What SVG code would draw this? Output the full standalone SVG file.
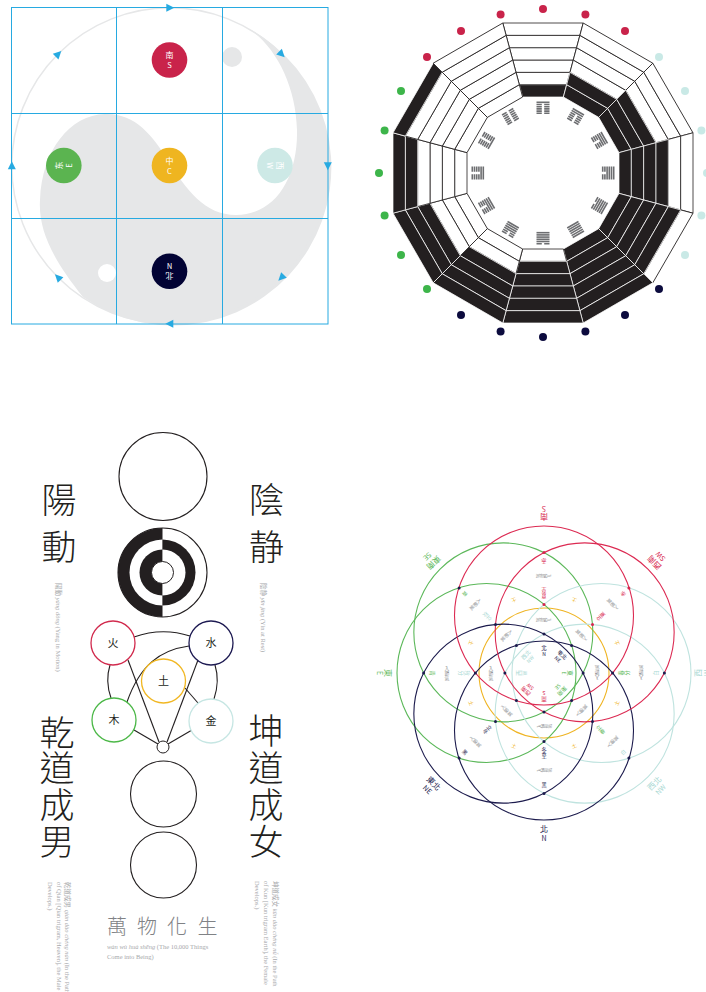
<svg xmlns="http://www.w3.org/2000/svg" width="706" height="992" viewBox="0 0 706 992">
<style>
.grid{fill:none;stroke:#27aae1;stroke-width:1}
.arr{fill:#27aae1}
.ct{font-family:'Noto Sans CJK SC',sans-serif;fill:#fff;text-anchor:middle}
.bk{fill:#231f20;stroke:#fff;stroke-width:.7}
.wh{fill:#fff;stroke:#231f20;stroke-width:.8}
.gl{fill:#6d6e71}
.ln{fill:none;stroke:#231f20;stroke-width:1.1}
.big{font-family:'Noto Sans CJK TC',sans-serif;font-size:35px;font-weight:300;fill:#231f20;text-anchor:middle}
.el{font-family:'Noto Sans CJK TC',sans-serif;font-size:11px;fill:#231f20;text-anchor:middle}
.cap{font-family:'Liberation Serif','Noto Sans CJK TC',serif;font-size:6.5px;fill:#a7a9ac}
.fl{fill:none;stroke-width:1.1}
.tn{font-family:'Noto Sans CJK TC',sans-serif;text-anchor:middle}
.ol{font-size:8px}
.ol2{font-size:7px}
.il{font-size:5.5px}
.il2{font-size:5px}
.sm{font-size:5.2px}
.gz{font-size:4.8px;fill:#939598}
.red{fill:#d7264e}.grn{fill:#5cb85a}.nav{fill:#1c1b4d}.tel{fill:#a9d8d3}.yel{fill:#efb423}
</style>
<defs>
<path id="arrow" d="M4.5,0 L-3.5,-4 L-3.5,4 Z"/>
<polygon id="b0" points="-20.36,-76 20.36,-76 23.67,-88.33 -23.67,-88.33"/>
<polygon id="b1" points="-23.67,-88.33 23.67,-88.33 26.97,-100.67 -26.97,-100.67"/>
<polygon id="b2" points="-26.97,-100.67 26.97,-100.67 30.28,-113 -30.28,-113"/>
<polygon id="b3" points="-30.28,-113 30.28,-113 33.58,-125.33 -33.58,-125.33"/>
<polygon id="b4" points="-33.58,-125.33 33.58,-125.33 36.89,-137.67 -36.89,-137.67"/>
<polygon id="b5" points="-36.89,-137.67 36.89,-137.67 40.19,-150 -40.19,-150"/>
<rect id="s" x="-6.5" y="0" width="13" height="1.6"/>
<path id="n" d="M-6.5,0h5.3v1.6h-5.3z M1.2,0h5.3v1.6h-5.3z"/>
<g id="gz"><text class="tn gz"><tspan x="0" y="-2.98">入</tspan><tspan x="0" y="1.82">節</tspan><tspan x="0" y="6.62">氣</tspan></text></g>
</defs>
<rect width="706" height="992" fill="#fff"/>

<!-- ===== Top-left: Luoshu grid with taiji ===== -->
<g id="luoshu">
<path id="yinyang" fill="#e6e7e8" d="M247,27.6 A158,158 0 1,1 83,297 C55,262 38,232 40,200 C42,150 70,115 105,114 C135,113 152,135 168,160 C186,190 205,215 236,215 C275,215 298,178 297,130 C296,85 275,45 247,27.6 Z"/>
<circle cx="169.8" cy="165.8" r="158" fill="none" stroke="#e6e7e8" stroke-width="1.5"/>
<circle cx="232" cy="57" r="10" fill="#e6e7e8"/>
<circle cx="107" cy="273" r="9" fill="#fff"/>
<g id="grid">
<rect class="grid" x="11.5" y="7.5" width="316.5" height="316.5"/>
<line class="grid" x1="116.5" y1="7.5" x2="116.5" y2="324"/>
<line class="grid" x1="222.5" y1="7.5" x2="222.5" y2="324"/>
<line class="grid" x1="11.5" y1="113.5" x2="328" y2="113.5"/>
<line class="grid" x1="11.5" y1="218.5" x2="328" y2="218.5"/>
</g>
<g id="orbit-arrows" class="arr">
<use href="#arrow" transform="translate(169.8,7.8) rotate(0)"/>
<use href="#arrow" transform="translate(281.5,54.1) rotate(45)"/>
<use href="#arrow" transform="translate(327.8,165.8) rotate(90)"/>
<use href="#arrow" transform="translate(281.5,277.5) rotate(135)"/>
<use href="#arrow" transform="translate(169.8,323.8) rotate(180)"/>
<use href="#arrow" transform="translate(58.1,277.5) rotate(225)"/>
<use href="#arrow" transform="translate(11.8,165.8) rotate(270)"/>
<use href="#arrow" transform="translate(58.1,54.1) rotate(315)"/>
</g>
<g id="node-south" transform="translate(169.5,60)"><circle r="17.8" fill="#c9234a"/><text class="ct" y="-2" font-size="8">南</text><text class="ct" y="8" font-size="7.5">S</text></g>
<g id="node-east" transform="translate(63.8,165.5) rotate(-90)"><circle r="17.8" fill="#5bb450"/><text class="ct" y="-2" font-size="8">东</text><text class="ct" y="8" font-size="7.5">E</text></g>
<g id="node-center" transform="translate(169.5,165.5)"><circle r="17.8" fill="#efb520"/><text class="ct" y="-2" font-size="8">中</text><text class="ct" y="8" font-size="7.5">C</text></g>
<g id="node-west" transform="translate(275,165.5) rotate(90)"><circle r="17.8" fill="#cde9e6"/><text class="ct" y="-2" font-size="8">西</text><text class="ct" y="8" font-size="7.5">W</text></g>
<g id="node-north" transform="translate(169.5,271.2) rotate(180)"><circle r="17.8" fill="#020334"/><text class="ct" y="-2" font-size="8">北</text><text class="ct" y="8" font-size="7.5">N</text></g>
</g>

<!-- ===== Top-right: twelve sovereign hexagrams wheel ===== -->
<g id="hexagram-wheel" transform="translate(543,173)">
<g id="seg0"><use href="#b0" class="bk"/><use href="#b1" class="wh"/><use href="#b2" class="wh"/><use href="#b3" class="wh"/><use href="#b4" class="wh"/><use href="#b5" class="wh"/>
<g class="gl"><use href="#s" y="-71.5"/><use href="#n" y="-69.3"/><use href="#n" y="-67.1"/><use href="#n" y="-64.9"/><use href="#n" y="-62.7"/><use href="#n" y="-60.5"/></g></g>
<g id="seg1" transform="rotate(30)"><use href="#b2" class="wh"/><use href="#b3" class="wh"/><use href="#b4" class="wh"/><use href="#b5" class="wh"/><use href="#b0" class="bk"/><use href="#b1" class="bk"/>
<g class="gl"><use href="#s" y="-71.5"/><use href="#s" y="-69.3"/><use href="#n" y="-67.1"/><use href="#n" y="-64.9"/><use href="#n" y="-62.7"/><use href="#n" y="-60.5"/></g></g>
<g id="seg2" transform="rotate(60)"><use href="#b3" class="wh"/><use href="#b4" class="wh"/><use href="#b5" class="wh"/><use href="#b0" class="bk"/><use href="#b1" class="bk"/><use href="#b2" class="bk"/>
<g class="gl"><use href="#s" y="-71.5"/><use href="#s" y="-69.3"/><use href="#s" y="-67.1"/><use href="#n" y="-64.9"/><use href="#n" y="-62.7"/><use href="#n" y="-60.5"/></g></g>
<g id="seg3" transform="rotate(90)"><use href="#b4" class="wh"/><use href="#b5" class="wh"/><use href="#b0" class="bk"/><use href="#b1" class="bk"/><use href="#b2" class="bk"/><use href="#b3" class="bk"/>
<g class="gl"><use href="#s" y="-71.5"/><use href="#s" y="-69.3"/><use href="#s" y="-67.1"/><use href="#s" y="-64.9"/><use href="#n" y="-62.7"/><use href="#n" y="-60.5"/></g></g>
<g id="seg4" transform="rotate(120)"><use href="#b5" class="wh"/><use href="#b0" class="bk"/><use href="#b1" class="bk"/><use href="#b2" class="bk"/><use href="#b3" class="bk"/><use href="#b4" class="bk"/>
<g class="gl"><use href="#s" y="-71.5"/><use href="#s" y="-69.3"/><use href="#s" y="-67.1"/><use href="#s" y="-64.9"/><use href="#s" y="-62.7"/><use href="#n" y="-60.5"/></g></g>
<g id="seg5" transform="rotate(150)"><use href="#b0" class="bk"/><use href="#b1" class="bk"/><use href="#b2" class="bk"/><use href="#b3" class="bk"/><use href="#b4" class="bk"/><use href="#b5" class="bk"/>
<g class="gl"><use href="#s" y="-71.5"/><use href="#s" y="-69.3"/><use href="#s" y="-67.1"/><use href="#s" y="-64.9"/><use href="#s" y="-62.7"/><use href="#s" y="-60.5"/></g></g>
<g id="seg6" transform="rotate(180)"><use href="#b0" class="wh"/><use href="#b1" class="bk"/><use href="#b2" class="bk"/><use href="#b3" class="bk"/><use href="#b4" class="bk"/><use href="#b5" class="bk"/>
<g class="gl"><use href="#n" y="-71.5"/><use href="#s" y="-69.3"/><use href="#s" y="-67.1"/><use href="#s" y="-64.9"/><use href="#s" y="-62.7"/><use href="#s" y="-60.5"/></g></g>
<g id="seg7" transform="rotate(210)"><use href="#b0" class="wh"/><use href="#b1" class="wh"/><use href="#b2" class="bk"/><use href="#b3" class="bk"/><use href="#b4" class="bk"/><use href="#b5" class="bk"/>
<g class="gl"><use href="#n" y="-71.5"/><use href="#n" y="-69.3"/><use href="#s" y="-67.1"/><use href="#s" y="-64.9"/><use href="#s" y="-62.7"/><use href="#s" y="-60.5"/></g></g>
<g id="seg8" transform="rotate(240)"><use href="#b0" class="wh"/><use href="#b1" class="wh"/><use href="#b2" class="wh"/><use href="#b3" class="bk"/><use href="#b4" class="bk"/><use href="#b5" class="bk"/>
<g class="gl"><use href="#n" y="-71.5"/><use href="#n" y="-69.3"/><use href="#n" y="-67.1"/><use href="#s" y="-64.9"/><use href="#s" y="-62.7"/><use href="#s" y="-60.5"/></g></g>
<g id="seg9" transform="rotate(270)"><use href="#b0" class="wh"/><use href="#b1" class="wh"/><use href="#b2" class="wh"/><use href="#b3" class="wh"/><use href="#b4" class="bk"/><use href="#b5" class="bk"/>
<g class="gl"><use href="#n" y="-71.5"/><use href="#n" y="-69.3"/><use href="#n" y="-67.1"/><use href="#n" y="-64.9"/><use href="#s" y="-62.7"/><use href="#s" y="-60.5"/></g></g>
<g id="seg10" transform="rotate(300)"><use href="#b0" class="wh"/><use href="#b1" class="wh"/><use href="#b2" class="wh"/><use href="#b3" class="wh"/><use href="#b4" class="wh"/><use href="#b5" class="bk"/>
<g class="gl"><use href="#n" y="-71.5"/><use href="#n" y="-69.3"/><use href="#n" y="-67.1"/><use href="#n" y="-64.9"/><use href="#n" y="-62.7"/><use href="#s" y="-60.5"/></g></g>
<g id="seg11" transform="rotate(330)"><use href="#b0" class="wh"/><use href="#b1" class="wh"/><use href="#b2" class="wh"/><use href="#b3" class="wh"/><use href="#b4" class="wh"/><use href="#b5" class="wh"/>
<g class="gl"><use href="#n" y="-71.5"/><use href="#n" y="-69.3"/><use href="#n" y="-67.1"/><use href="#n" y="-64.9"/><use href="#n" y="-62.7"/><use href="#n" y="-60.5"/></g></g>
</g>
<g id="wheel-dots">
<g fill="#c9234a"><circle cx="625" cy="31" r="4"/><circle cx="585.4" cy="14.6" r="4"/><circle cx="543" cy="9" r="4"/><circle cx="500.6" cy="14.6" r="4"/><circle cx="461" cy="31" r="4"/><circle cx="427" cy="57" r="4"/></g>
<g fill="#3db54a"><circle cx="401" cy="91" r="4"/><circle cx="384.6" cy="130.6" r="4"/><circle cx="379" cy="173" r="4"/><circle cx="384.6" cy="215.4" r="4"/><circle cx="401" cy="255" r="4"/><circle cx="427" cy="289" r="4"/></g>
<g fill="#0c0b3e"><circle cx="461" cy="315" r="4"/><circle cx="500.6" cy="331.4" r="4"/><circle cx="543" cy="337" r="4"/><circle cx="585.4" cy="331.4" r="4"/><circle cx="625" cy="315" r="4"/><circle cx="659" cy="289" r="4"/></g>
<g fill="#c9e9e6"><circle cx="685" cy="255" r="4"/><circle cx="701.4" cy="215.4" r="4"/><circle cx="707" cy="173" r="4"/><circle cx="701.4" cy="130.6" r="4"/><circle cx="685" cy="91" r="4"/><circle cx="659" cy="57" r="4"/></g>
</g>

<!-- ===== Bottom-left: Taiji tu ===== -->
<g id="taijitu">
<g id="wuji"><circle cx="163" cy="476.5" r="44" class="ln"/></g>
<g id="kanli">
<circle cx="162.5" cy="572.5" r="44.5" fill="#fff"/>
<path d="M162.5,528 A44.5,44.5 0 0 0 162.5,617 Z" fill="#231f20"/>
<path d="M162.5,539.5 A33,33 0 0 0 162.5,605.5 Z" fill="#fff"/>
<path d="M162.5,549.5 A23,23 0 0 0 162.5,595.5 Z" fill="#231f20"/>
<path d="M162.5,539.5 A33,33 0 0 1 162.5,605.5 Z" fill="#231f20"/>
<path d="M162.5,549.5 A23,23 0 0 1 162.5,595.5 Z" fill="#fff"/>
<circle cx="162.5" cy="572.5" r="11" fill="#fff" stroke="#231f20" stroke-width="1"/>
<circle cx="162.5" cy="572.5" r="44.5" class="ln"/>
</g>
<g id="wuxing-links">
<path class="ln" d="M134,637 Q162,627 190,636"/>
<path class="ln" d="M189,646 C160,650 140,665 127,702"/>
<path class="ln" d="M128,660 L159,742"/>
<path class="ln" d="M198,660 L167,742"/>
<path class="ln" d="M110,665 Q105,681 111,698"/>
<path class="ln" d="M215,665 Q220,681 214,699"/>
<path class="ln" d="M185,688 L198,703"/>
<path class="ln" d="M134,730 L158,744"/>
<path class="ln" d="M192,730 L168,744"/>
</g>
<g id="el-fire"><circle cx="113" cy="643" r="22" fill="#fff" stroke="#d12a4d" stroke-width="1.3"/><text class="el" x="113" y="647">火</text></g>
<g id="el-water"><circle cx="211" cy="643" r="22" fill="#fff" stroke="#1d1a52" stroke-width="1.3"/><text class="el" x="211" y="647">水</text></g>
<g id="el-earth"><circle cx="163.5" cy="681" r="22" fill="#fff" stroke="#f1b722" stroke-width="1.3"/><text class="el" x="163.5" y="685">土</text></g>
<g id="el-wood"><circle cx="114" cy="720" r="22" fill="#fff" stroke="#4cb848" stroke-width="1.3"/><text class="el" x="114" y="724">木</text></g>
<g id="el-metal"><circle cx="211" cy="721" r="22" fill="#fff" stroke="#c6e6e3" stroke-width="1.3"/><text class="el" x="211" y="725">金</text></g>
<g id="junction"><circle cx="163" cy="747" r="6" fill="#fff" stroke="#231f20" stroke-width="1"/></g>
<g id="qiankun"><circle cx="163.5" cy="794" r="33" class="ln"/></g>
<g id="wanwu"><circle cx="163.5" cy="865" r="33" class="ln"/></g>
<g id="labels-big">
<text class="big" x="59" y="513">陽</text>
<text class="big" x="59" y="560">動</text>
<text class="big" x="266.5" y="513">陰</text>
<text class="big" x="266.5" y="560">静</text>
<text class="big" x="57" y="746">乾</text>
<text class="big" x="57" y="781">道</text>
<text class="big" x="57" y="818">成</text>
<text class="big" x="57" y="855">男</text>
<text class="big" x="266" y="744">坤</text>
<text class="big" x="266" y="781">道</text>
<text class="big" x="266" y="818">成</text>
<text class="big" x="266" y="855">女</text>
<text x="117 147 177 207.5" y="934" font-family="'Noto Sans CJK TC',sans-serif" font-size="20" font-weight="300" fill="#808285" text-anchor="middle">萬物化生</text>
</g>
<g id="captions">
<text class="cap" transform="translate(55.5,583) rotate(90)">陽動 <tspan font-style="italic">yáng dòng</tspan> (Yang in Motion)</text>
<text class="cap" transform="translate(261,583) rotate(90)">陰静 <tspan font-style="italic">yīn jìng</tspan> (Yin at Rest)</text>
<text class="cap" transform="translate(65,882) rotate(90)"><tspan x="0" y="0">乾道成男 <tspan font-style="italic">qián dào chéng nán</tspan> (In the Path</tspan><tspan x="0" y="8.5">of Qian [Qian trigram, Heaven], the Male</tspan><tspan x="0" y="17">Develops.)</tspan></text>
<text class="cap" transform="translate(273,881) rotate(90)"><tspan x="0" y="0">坤道成女 <tspan font-style="italic">kūn dào chéng nǚ</tspan>  (In the Path</tspan><tspan x="0" y="9">of Kun [Kun trigram Earth], the Female</tspan><tspan x="0" y="18">Develops.)</tspan></text>
<text class="cap" x="107" y="949"><tspan font-style="italic">wàn wù huà shēng</tspan> (The 10,000 Things</text>
<text class="cap" x="107" y="959">Come into Being)</text>
</g>
</g>

<!-- ===== Bottom-right: nine palaces circles ===== -->
<g id="nine-palaces">
<g id="palace-circles" class="fl">
<circle cx="544" cy="673" r="65" stroke="#efb423"/>
<circle cx="503.34" cy="632.34" r="89.5" stroke="#5cb85a"/>
<circle cx="486.5" cy="673" r="89.5" stroke="#5cb85a"/>
<circle cx="584.66" cy="713.66" r="89.5" stroke="#bfe3df"/>
<circle cx="601.5" cy="673" r="89.5" stroke="#bfe3df"/>
<circle cx="503.34" cy="713.66" r="89.5" stroke="#1c1b4d"/>
<circle cx="544" cy="730.5" r="89.5" stroke="#1c1b4d"/>
<circle cx="544" cy="615.5" r="89.5" stroke="#dc2a52"/>
<circle cx="584.66" cy="632.34" r="89.5" stroke="#dc2a52"/>
</g>
<g id="palace-dots">
<g class="red"><circle cx="544" cy="552.6" r="1.5"/><circle cx="544" cy="604.4" r="1.5"/><circle cx="628.9" cy="588.1" r="1.5"/><circle cx="592.5" cy="624.5" r="1.5"/></g>
<g class="nav"><circle cx="544" cy="633.9" r="1.5"/><circle cx="571.6" cy="645.4" r="1.5"/>
<circle cx="664.4" cy="673" r="1.5"/><circle cx="612.6" cy="673" r="1.5"/><circle cx="583.1" cy="673" r="1.5"/>
<circle cx="628.9" cy="757.9" r="1.5"/><circle cx="592.5" cy="721.5" r="1.5"/><circle cx="571.6" cy="700.6" r="1.5"/>
<circle cx="544" cy="793.4" r="1.5"/><circle cx="544" cy="741.6" r="1.5"/><circle cx="544" cy="712.1" r="1.5"/>
<circle cx="459.1" cy="757.9" r="1.5"/><circle cx="495.5" cy="721.5" r="1.5"/><circle cx="516.4" cy="700.6" r="1.5"/>
<circle cx="423.6" cy="673" r="1.5"/><circle cx="475.4" cy="673" r="1.5"/><circle cx="504.9" cy="673" r="1.5"/>
<circle cx="459.1" cy="588.1" r="1.5"/><circle cx="495.5" cy="624.5" r="1.5"/><circle cx="516.4" cy="645.4" r="1.5"/></g>
</g>
<g id="outer-labels" class="tn">
<g transform="translate(544,513) rotate(180)" class="red"><text class="ol" y="-1">南</text><text class="ol2" y="7.5">S</text></g>
<g transform="translate(657.1,559.9) rotate(225)" class="red"><text class="ol" y="-1">西南</text><text class="ol2" y="7.5">SW</text></g>
<g transform="translate(702,673) rotate(270)" class="tel"><text class="ol" y="-1">西</text><text class="ol2" y="7.5">W</text></g>
<g transform="translate(657.1,786.1) rotate(315)" class="tel"><text class="ol" y="-1">西北</text><text class="ol2" y="7.5">NW</text></g>
<g transform="translate(544,833)" class="nav"><text class="ol" y="-1">北</text><text class="ol2" y="7.5">N</text></g>
<g transform="translate(430.9,786.1) rotate(45)" class="nav"><text class="ol" y="-1">東北</text><text class="ol2" y="7.5">NE</text></g>
<g transform="translate(384,673) rotate(90)" class="grn"><text class="ol" y="-1">東</text><text class="ol2" y="7.5">E</text></g>
<g transform="translate(430.9,559.9) rotate(135)" class="grn"><text class="ol" y="-1">東南</text><text class="ol2" y="7.5">SE</text></g>
</g>
<g id="inner-compass" class="tn">
<g transform="translate(544,650)" class="nav"><text class="il" y="-0.5">北</text><text class="il2" y="5.5">N</text></g>
<g transform="translate(560.3,656.7) rotate(45)" class="nav"><text class="il" y="-0.5">東北</text><text class="il2" y="5.5">NE</text></g>
<g transform="translate(567,673) rotate(90)" class="grn"><text class="il" y="-0.5">東</text><text class="il2" y="5.5">E</text></g>
<g transform="translate(560.3,689.3) rotate(135)" class="grn"><text class="il" y="-0.5">東南</text><text class="il2" y="5.5">SE</text></g>
<g transform="translate(544,696) rotate(180)" class="red"><text class="il" y="-0.5">南</text><text class="il2" y="5.5">S</text></g>
<g transform="translate(527.7,689.3) rotate(225)" class="red"><text class="il" y="-0.5">西南</text><text class="il2" y="5.5">SW</text></g>
<g transform="translate(521,673) rotate(270)" class="tel"><text class="il" y="-0.5">西</text><text class="il2" y="5.5">W</text></g>
<g transform="translate(527.7,656.7) rotate(315)" class="tel"><text class="il" y="-0.5">西北</text><text class="il2" y="5.5">NW</text></g>
</g>
<g id="grey-labels">
<use href="#gz" transform="translate(544,620) rotate(90)"/>
<use href="#gz" transform="translate(581.5,635.5) rotate(135)"/>
<use href="#gz" transform="translate(597,673) rotate(180)"/>
<use href="#gz" transform="translate(581.5,710.5) rotate(225)"/>
<use href="#gz" transform="translate(544,726) rotate(270)"/>
<use href="#gz" transform="translate(506.5,710.5) rotate(315)"/>
<use href="#gz" transform="translate(491,673)"/>
<use href="#gz" transform="translate(506.5,635.5) rotate(45)"/>
<use href="#gz" transform="translate(544,576) rotate(90)"/>
<use href="#gz" transform="translate(612.6,604.4) rotate(135)"/>
<use href="#gz" transform="translate(641,673) rotate(180)"/>
<use href="#gz" transform="translate(612.6,741.6) rotate(225)"/>
<use href="#gz" transform="translate(544,770) rotate(270)"/>
<use href="#gz" transform="translate(475.4,741.6) rotate(315)"/>
<use href="#gz" transform="translate(447,673)"/>
<use href="#gz" transform="translate(475.4,604.4) rotate(45)"/>
</g>
<g id="term-labels" class="tn sm">
<text class="red" transform="translate(544,593) rotate(180)"><tspan x="0" y="-0.62">夏</tspan><tspan x="0" y="4.58">至</tspan></text>
<text class="red" transform="translate(600.6,616.4) rotate(225)"><tspan x="0" y="-0.62">立</tspan><tspan x="0" y="4.58">夏</tspan></text>
<text class="grn" transform="translate(624,673) rotate(270)"><tspan x="0" y="-0.62">春</tspan><tspan x="0" y="4.58">分</tspan></text>
<text class="grn" transform="translate(600.6,729.6) rotate(315)"><tspan x="0" y="-0.62">立</tspan><tspan x="0" y="4.58">春</tspan></text>
<text class="nav" transform="translate(544,753)"><tspan x="0" y="-0.62">冬</tspan><tspan x="0" y="4.58">至</tspan></text>
<text class="nav" transform="translate(487.4,729.6) rotate(45)"><tspan x="0" y="-0.62">立</tspan><tspan x="0" y="4.58">冬</tspan></text>
<text class="tel" transform="translate(464,673) rotate(90)"><tspan x="0" y="-0.62">秋</tspan><tspan x="0" y="4.58">分</tspan></text>
<text class="tel" transform="translate(487.4,616.4) rotate(135)"><tspan x="0" y="-0.62">立</tspan><tspan x="0" y="4.58">秋</tspan></text>
</g>
<g id="color-chars" class="tn sm">
<text class="red" transform="translate(544,561) rotate(180)" y="2">赤</text>
<text class="red" transform="translate(623.2,593.8) rotate(225)" y="2">赤</text>
<text class="tel" transform="translate(656,673) rotate(270)" y="2">白</text>
<text class="tel" transform="translate(623.2,752.2) rotate(315)" y="2">白</text>
<text class="nav" transform="translate(544,785)" y="2">黑</text>
<text class="nav" transform="translate(464.8,752.2) rotate(45)" y="2">黑</text>
<text class="grn" transform="translate(432,673) rotate(90)" y="2">青</text>
<text class="grn" transform="translate(464.8,593.8) rotate(135)" y="2">青</text>
</g>
<g id="earth-chars" class="tn sm yel">
<text transform="translate(513.8,600) rotate(-202.5)" y="2">土</text>
<text transform="translate(574.2,600) rotate(-157.5)" y="2">土</text>
<text transform="translate(617,642.8) rotate(-112.5)" y="2">土</text>
<text transform="translate(617,703.2) rotate(-67.5)" y="2">土</text>
<text transform="translate(574.2,746) rotate(-22.5)" y="2">土</text>
<text transform="translate(513.8,746) rotate(22.5)" y="2">土</text>
<text transform="translate(471,703.2) rotate(67.5)" y="2">土</text>
<text transform="translate(471,642.8) rotate(112.5)" y="2">土</text>
</g>
</g>
</svg>
